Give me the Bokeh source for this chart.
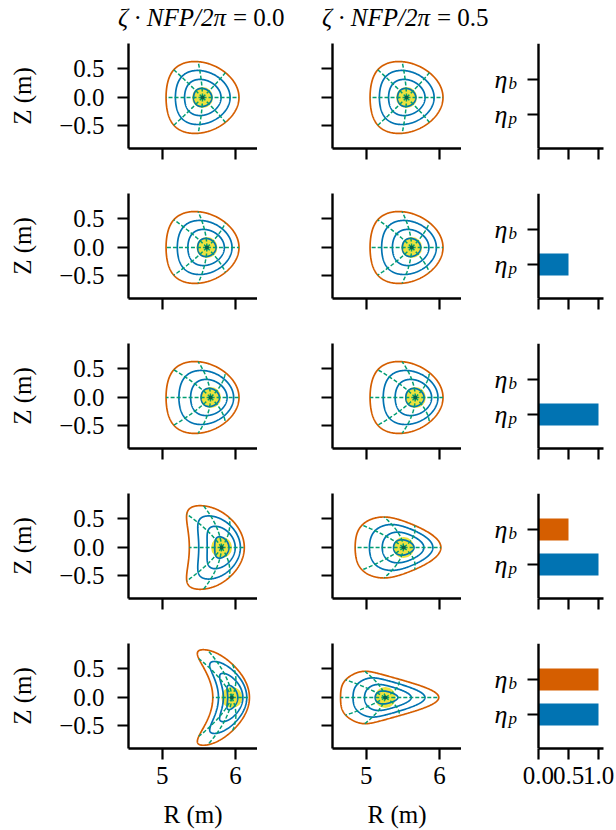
import numpy as np
from bokeh.plotting import figure
from bokeh.layouts import gridplot, column
from bokeh.models import FixedTicker, Range1d, ColumnDataSource
from bokeh.core.properties import value
from bokeh.embed import file_html
from bokeh.resources import INLINE

# ------------------------------------------------------------------ data
title_lhs = "ζ · NFP/2π"
title_values = ["0.0", "0.5"]
eta_names = ["p", "b"]            # y = 0 -> eta_p, y = 1 -> eta_b
eta_p = [0.0, 0.5, 1.0, 1.0, 1.0]
eta_b = [0.0, 0.0, 0.0, 0.5, 1.0]

# magnetic-axis major radius (m) per row, for zeta=0 and zeta=0.5
axis_R = [[5.55, 5.55], [5.61, 5.62], [5.66, 5.67], [5.81, 5.51], [5.95, 5.26]]

# boundary Fourier coefficients: R = sum Rm cos(m t), Z = sum Zm sin(m t)
R_axisym = [5.515, 0.4975, 0.03, 0.0, 0.005]
Z_axisym = [0.0, 0.64, -0.025, 0.012]
R_half_z0 = [5.64, 0.3925, 0.09, -0.0175, 0.015]
Z_half_z0 = [0.0, 0.7574, -0.03, 0.0274]
R_half_z5 = [5.32, 0.545, 0.095, 0.04, 0.019]
Z_half_z5 = [0.0, 0.5436, -0.0025, 0.0086]
R_full_z0 = [5.755, 0.2875, 0.16, -0.0375, 0.025]
Z_full_z0 = [0.0, 0.8604, -0.05, 0.0304]
R_full_z5 = [5.1175, 0.593, 0.17, 0.077, 0.0325]
Z_full_z5 = [0.0, 0.4527, 0.005, -0.0073]

boundary_R = [[R_axisym, R_axisym], [R_axisym, R_axisym], [R_axisym, R_axisym],
              [R_half_z0, R_half_z5], [R_full_z0, R_full_z5]]
boundary_Z = [[Z_axisym, Z_axisym], [Z_axisym, Z_axisym], [Z_axisym, Z_axisym],
              [Z_half_z0, Z_half_z5], [Z_full_z0, Z_full_z5]]

rho_levels = [0.25, 0.5, 0.75]
n_theta_lines = 8

# ------------------------------------------------------------------ style
FONT = "Liberation Serif"
FS = "25px"
BLUE = "#0173b2"
ORANGE = "#d55e00"
GREEN = "#029e73"
YELLOW = "#ece133"
DARK = "#0b5f46"

COL_LEFT = [128, 75, 15]
COL_FRAME = [129, 129, 127]
COL_RIGHT = [0, 0, 13]
TOTAL_W = sum(COL_LEFT) + sum(COL_FRAME) + sum(COL_RIGHT)
HEAD_H = 43


def surface(Rc, Zs, r_ax, rho, theta):
    rho = np.asarray(rho, dtype=float)
    R = r_ax + rho ** 2 * (Rc[0] - r_ax)
    Z = 0.0 * rho
    for m in range(1, len(Rc)):
        R = R + rho ** (1 + 0.4 * (m - 1)) * Rc[m] * np.cos(m * theta)
    for m in range(1, len(Zs)):
        Z = Z + rho ** (1 + 0.4 * (m - 1)) * Zs[m] * np.sin(m * theta)
    return R, Z


def style_axes(p):
    p.outline_line_color = None
    p.grid.visible = False
    for ax in p.axis:
        ax.axis_line_width = 2.4
        ax.axis_line_color = "black"
        ax.major_tick_line_width = 2.2
        ax.major_tick_out = 11
        ax.major_tick_in = 0
        ax.minor_tick_out = 0
        ax.minor_tick_in = 0
        ax.major_label_text_font = FONT
        ax.major_label_text_font_size = FS
        ax.major_label_text_color = "black"
        ax.axis_label_text_font = FONT
        ax.axis_label_text_font_size = FS
        ax.axis_label_text_font_style = "normal"
        ax.axis_label_text_color = "black"


def hide_labels(ax):
    ax.major_label_text_font_size = "0px"
    ax.major_label_text_color = None
    ax.major_label_standoff = 0


# ---------------------------------------------------------------- header
head = figure(width=TOTAL_W, height=HEAD_H, x_range=Range1d(0, TOTAL_W),
              y_range=Range1d(0, HEAD_H), output_backend="svg", title=None,
              toolbar_location=None, x_axis_location=None, y_axis_location=None,
              min_border=0)
head.outline_line_color = None
head.grid.visible = False
split_x = []
acc = 0
for c in range(2):
    centre = acc + COL_LEFT[c] + COL_FRAME[c] / 2
    split_x.append(centre + 33)
    acc += COL_LEFT[c] + COL_FRAME[c] + COL_RIGHT[c]
head.text(x=split_x, y=[26, 26], text=[title_lhs] * 2, text_align="right",
          text_baseline="middle", text_font=value(FONT),
          text_font_style="italic", text_font_size=FS, text_color="black")
head.text(x=split_x, y=[26, 26], text=["= " + v for v in title_values],
          x_offset=7, text_align="left", text_baseline="middle",
          text_font=value(FONT), text_font_size=FS, text_color="black")

# ---------------------------------------------------------------- panels
figs = []
for r in range(5):
    row_figs = []
    for c in range(3):
        is_bar = c == 2
        top = 0 if r == 0 else 31
        bottom = 82 if r == 4 else 14
        if is_bar:
            xr, yr = Range1d(-1.0333, 1.0833), Range1d(-0.97, 2.03)
        else:
            xr, yr = Range1d(4.54, 6.3), Range1d(-0.895, 0.947)
        p = figure(frame_width=COL_FRAME[c], frame_height=105,
                   x_range=xr, y_range=yr, output_backend="svg",
                   toolbar_location=None, title=None,
                   min_border_left=COL_LEFT[c], min_border_right=COL_RIGHT[c],
                   min_border_top=top, min_border_bottom=bottom)
        style_axes(p)

        if is_bar:
            p.xaxis.ticker = FixedTicker(ticks=[0, 0.5, 1.0])
            p.xaxis.major_label_overrides = {0: "0.0", 0.5: "0.5", 1: "1.0"}
            p.xaxis.bounds = (0, 1.0833)
            p.yaxis.ticker = FixedTicker(ticks=[0, 1])
            p.yaxis.fixed_location = 0
            hide_labels(p.yaxis[0])
            p.hbar(y=[0, 1], left=0, right=[eta_p[r], eta_b[r]], height=0.63,
                   color=[BLUE, ORANGE], line_color=None)
            src = ColumnDataSource(dict(x=[0, 0], y=[0, 1], sub=eta_names,
                                        eta=["η", "η"]))
            p.text(x="x", y="y", text="eta", source=src, x_offset=-31, y_offset=0,
                   text_align="right", text_baseline="alphabetic",
                   text_font=value(FONT), text_font_style="italic",
                   text_font_size="26px", text_color="black")
            p.text(x="x", y="y", text="sub", source=src, x_offset=-30, y_offset=4,
                   text_align="left", text_baseline="alphabetic",
                   text_font=value(FONT), text_font_style="italic",
                   text_font_size="17px", text_color="black")
        else:
            p.xaxis.ticker = FixedTicker(ticks=[5, 6])
            p.yaxis.ticker = FixedTicker(ticks=[-0.5, 0, 0.5])
            p.yaxis.major_label_overrides = {-0.5: "−0.5", 0: "0.0", 0.5: "0.5"}
            if c == 0:
                p.yaxis.axis_label = "Z (m)"
                p.yaxis.major_label_standoff = 13
                p.yaxis.axis_label_standoff = 20
            else:
                hide_labels(p.yaxis[0])
            Rc, Zs, rax = boundary_R[r][c], boundary_Z[r][c], axis_R[r][c]
            th = np.linspace(0, 2 * np.pi, 361)
            p.scatter([rax], [0], size=21, fill_color=YELLOW, line_color=None,
                      fill_alpha=0.95)
            for rho in rho_levels:
                R, Z = surface(Rc, Zs, rax, rho, th)
                p.line(R, Z, line_color=BLUE, line_width=1.7)
            R, Z = surface(Rc, Zs, rax, 1.0, th)
            p.line(R, Z, line_color=ORANGE, line_width=1.7)
            rr = np.linspace(0, 1, 40)
            for k in range(n_theta_lines):
                R, Z = surface(Rc, Zs, rax, rr, 2 * np.pi * k / n_theta_lines)
                p.line(R, Z, line_color=GREEN, line_dash="4 2", line_width=1.5)
            p.scatter([rax], [0], size=4, fill_color=DARK, line_color=None)

        if r == 4:
            p.xaxis.major_label_standoff = 7
            p.xaxis.axis_label_standoff = 14
            if not is_bar:
                p.xaxis.axis_label = "R (m)"
        else:
            hide_labels(p.xaxis[0])
        row_figs.append(p)
    figs.append(row_figs)

grid = gridplot(figs, toolbar_location=None)
layout = column(head, grid)
open("out.html", "w").write(file_html(layout, INLINE))
